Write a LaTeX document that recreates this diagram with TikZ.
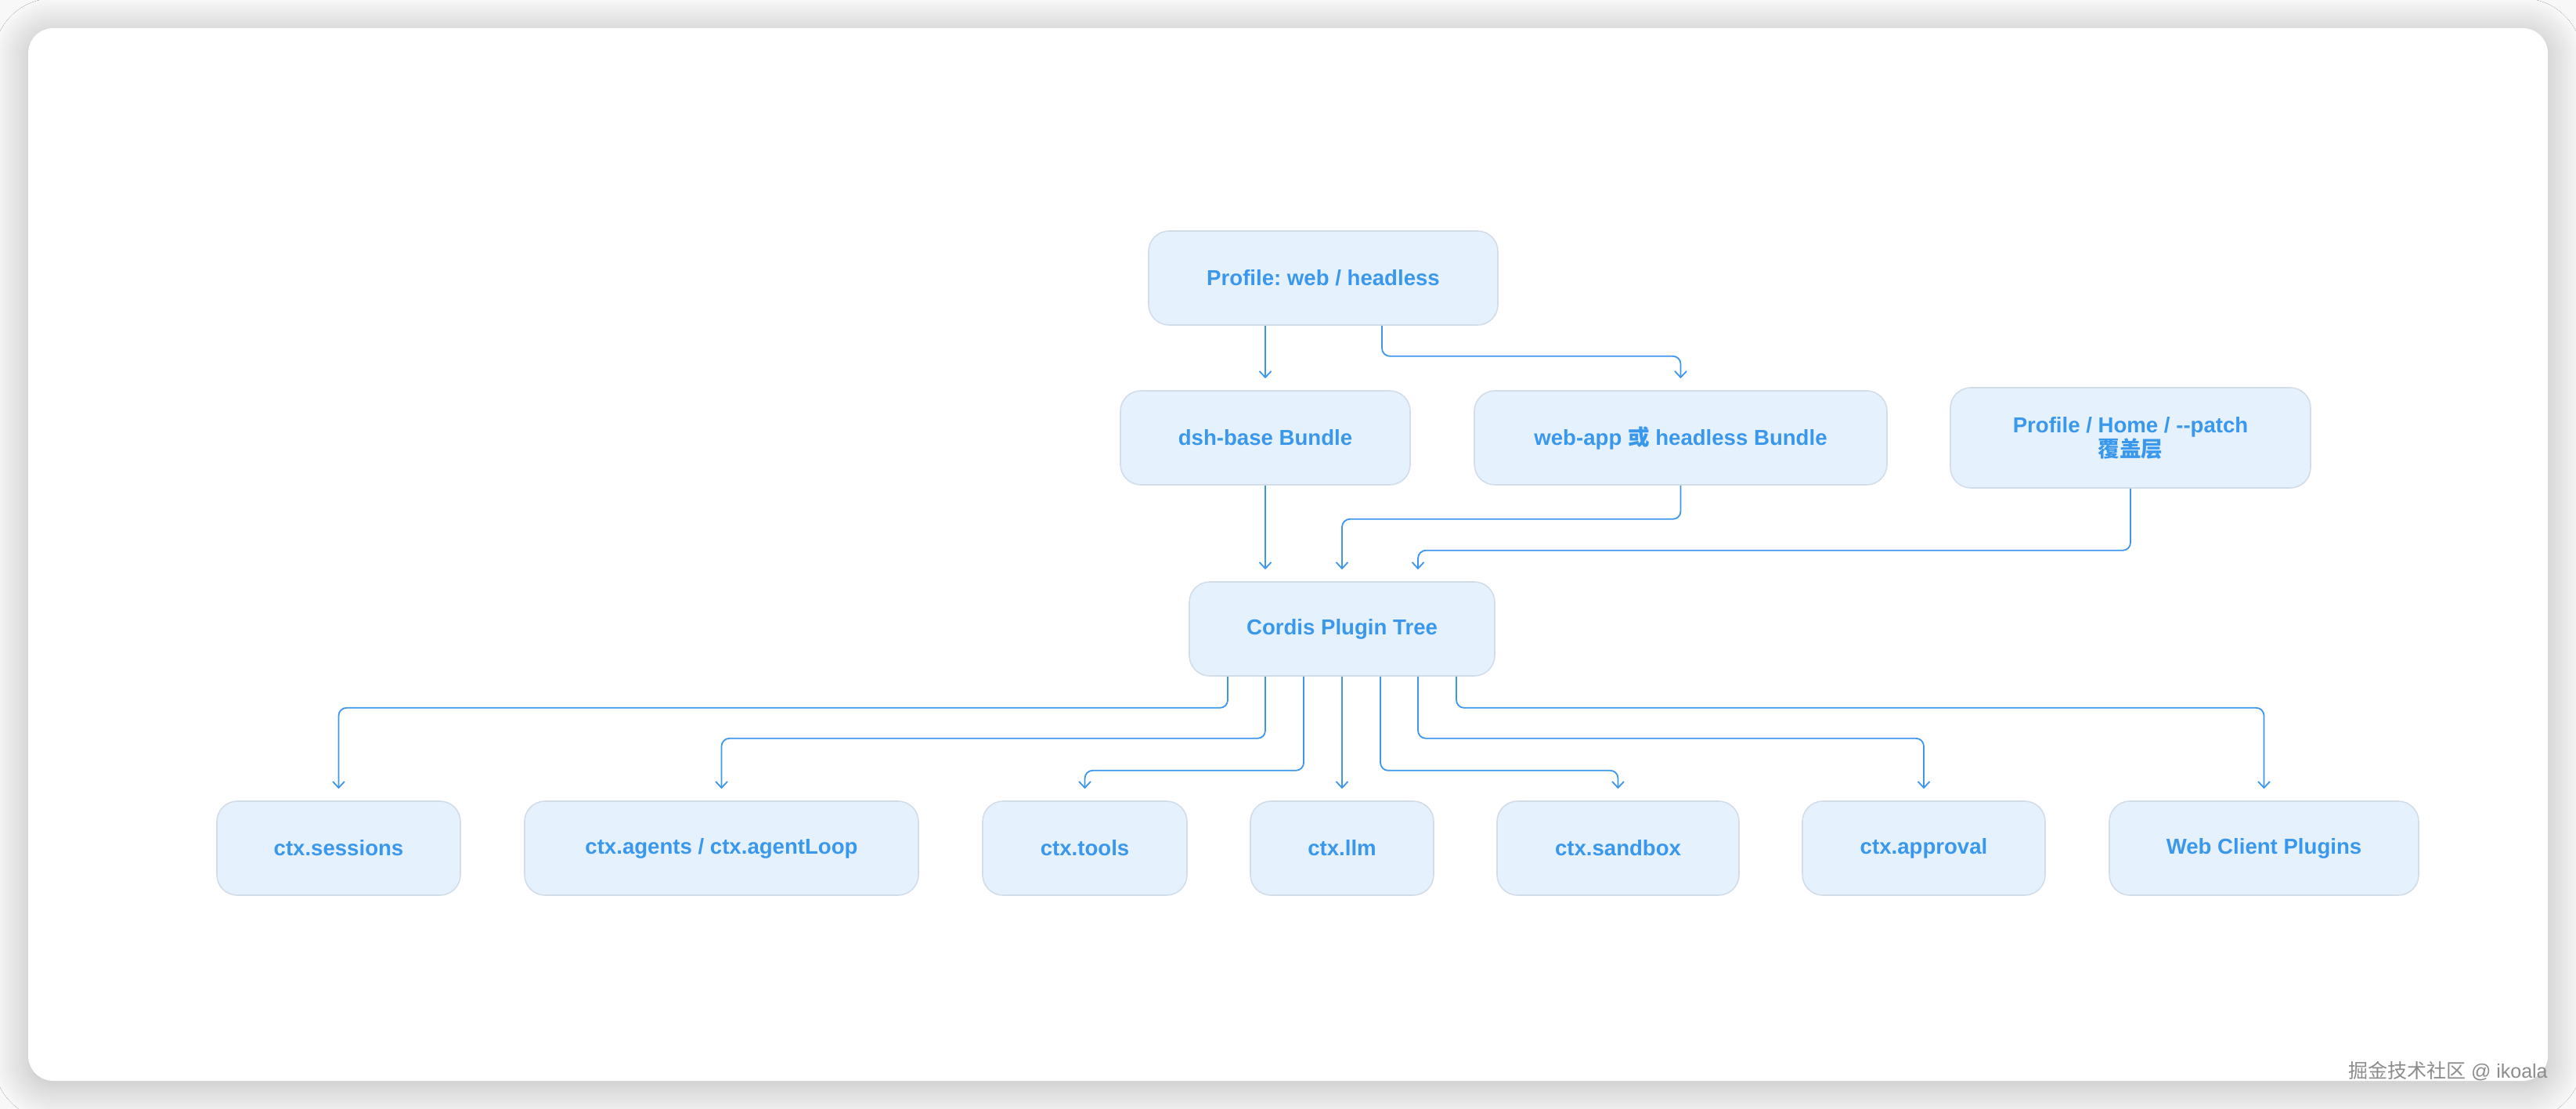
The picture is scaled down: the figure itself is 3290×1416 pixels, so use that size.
\documentclass[tikz,border=0pt]{standalone}
\usepackage{fontspec}
\setmainfont{Liberation Sans}
\newfontfamily\cjk{Noto Sans CJK SC}
\usetikzlibrary{arrows.meta,shadows.blur}
\definecolor{txtblue}{HTML}{3A98EC}
\definecolor{boxfill}{HTML}{E6F1FE}
\definecolor{boxline}{HTML}{D3DDE8}
\definecolor{linkblue}{HTML}{3E97EA}
\definecolor{wmgray}{HTML}{8C8C8C}
\definecolor{pagebg}{HTML}{F8F8F8}
\tikzset{
  box/.style={draw=boxline, line width=0.8pt, fill=boxfill, rounded corners=13pt,
    text=txtblue, font=\frenchspacing\fontsize{13.8}{15.5}\selectfont\bfseries, align=center,
    minimum height=60pt, inner sep=0pt},
  link/.style={draw=linkblue, line width=0.9pt, rounded corners=5pt,
    -{Straight Barb[length=4pt,width=7.5pt,line width=0.9pt]}, shorten >=7.5pt},
}
\begin{document}
\begin{tikzpicture}[x=0.5pt,y=-0.5pt]
\useasboundingbox (0,0) rectangle (3290,1416);
\fill[pagebg] (0,0) rectangle (3290,1416);
\fill[white, rounded corners=16pt,
  blur shadow={shadow xshift=0pt, shadow yshift=-3pt, shadow blur radius=22pt,
  shadow opacity=26, shadow blur steps=20}] (36,36) rectangle (3254,1380);

% top part
\node[box, minimum width=223pt] (prof) at (1690,355) {Profile: web / headless};
\node[box, minimum width=185pt] (dsh) at (1616,559) {dsh-base Bundle};
\node[box, minimum width=263.5pt] (webapp) at (2146.5,559) {web-app {\cjk 或} headless Bundle};
\node[box, minimum width=230pt, minimum height=64pt] (patch) at (2721,559) {Profile / Home / -{}-patch\\{\cjk 覆盖层}};
\node[box, minimum width=195pt] (cordis) at (1714,803) {Cordis Plugin Tree};

% bottom row
\node[box, minimum width=155.5pt] (sessions) at (432.5,1083) {ctx.sessions};
\node[box, minimum width=251.5pt] (agents) at (921.5,1083) {ctx.agents / ctx.agentLoop};
\node[box, minimum width=130.5pt] (tools) at (1385.5,1083) {ctx.tools};
\node[box, minimum width=117pt] (llm) at (1714,1083) {ctx.llm};
\node[box, minimum width=154.5pt] (sandbox) at (2066.5,1083) {ctx.sandbox};
\node[box, minimum width=155pt] (approval) at (2457,1083) {ctx.approval};
\node[box, minimum width=197.5pt] (webcp) at (2891.5,1083) {Web Client Plugins};

% connectors top
\draw[link] (prof.south -| dsh.north) -- (dsh.north);
\draw[link] ([xshift=37.5pt]prof.south) -- ++(0,39) -| (webapp.north);
\draw[link] (dsh.south) -- (dsh.south |- cordis.north);
\draw[link] (webapp.south) -- ++(0,43) -| (cordis.north);
\draw[link] (patch.south) -- ++(0,79) -| ([xshift=48.5pt]cordis.north);

% connectors bottom
\draw[link] ([xshift=-73pt]cordis.south) -- ++(0,40) -| (sessions.north);
\draw[link] ([xshift=-49pt]cordis.south) -- ++(0,79) -| (agents.north);
\draw[link] ([xshift=-24.5pt]cordis.south) -- ++(0,120) -| (tools.north);
\draw[link] (cordis.south) -- (llm.north);
\draw[link] ([xshift=24.5pt]cordis.south) -- ++(0,120) -| (sandbox.north);
\draw[link] ([xshift=48.5pt]cordis.south) -- ++(0,79) -| (approval.north);
\draw[link] ([xshift=73pt]cordis.south) -- ++(0,40) -| (webcp.north);

% watermark
\node[anchor=base east, inner sep=0pt, text=wmgray, font=\fontsize{12.5}{14}\selectfont] (wm) at (3254,1376) {{\cjk 掘金技术社区} @ ikoala};
\end{tikzpicture}
\end{document}
